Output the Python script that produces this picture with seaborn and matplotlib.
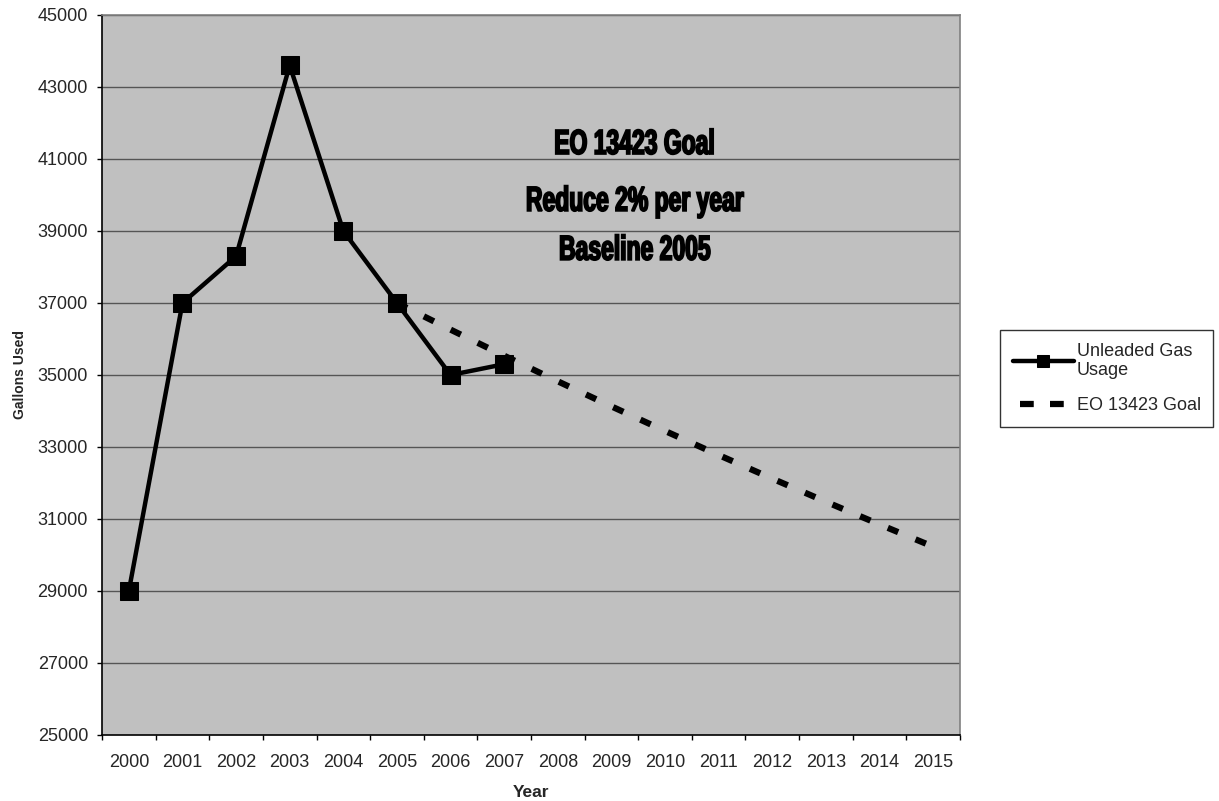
import matplotlib
matplotlib.use("Agg")
import matplotlib.pyplot as plt
import seaborn as sns
import pandas as pd
import numpy as np
from matplotlib.patheffects import AbstractPathEffect
from matplotlib.transforms import Affine2D

# Annual unleaded gasoline usage (gallons)
usage_years = [2000, 2001, 2002, 2003, 2004, 2005, 2006, 2007]
usage_gallons = [29000, 37000, 38300, 43600, 39000, 37000, 35000, 35300]

# EO 13423 goal: 2% reduction per year from the 2005 baseline
goal_years = [2005, 2006, 2007, 2008, 2009, 2010, 2011, 2012, 2013, 2014, 2015]
goal_gallons = [37000, 36260, 35535, 34824, 34128, 33445, 32776, 32121, 31479, 30849, 30232]

axis_years = list(range(2000, 2016))
y_ticks = [25000, 27000, 29000, 31000, 33000, 35000, 37000, 39000, 41000, 43000, 45000]
note_lines = ["EO 13423 Goal", "Reduce 2% per year", "Baseline 2005"]


class CondensedHeavy(AbstractPathEffect):
    """Draw text glyphs narrowed horizontally about their centre, with a thickening stroke."""

    def __init__(self, sx=0.7, stroke=1.0):
        super().__init__()
        self.sx = sx
        self.stroke = stroke

    def draw_path(self, renderer, gc, tpath, affine, rgbFace=None):
        v = tpath.vertices
        cx = 0.5 * (v[:, 0].min() + v[:, 0].max()) if len(v) else 0.0
        aff = Affine2D().translate(-cx, 0).scale(self.sx, 1.0).translate(cx, 0) + affine
        gc0 = renderer.new_gc()
        gc0.copy_properties(gc)
        if rgbFace is not None and self.stroke > 0:
            gc0.set_foreground(rgbFace)
            gc0.set_linewidth(self.stroke)
            gc0.set_joinstyle("miter")
        renderer.draw_path(gc0, tpath, aff, rgbFace)
        gc0.restore()


sns.set_theme(style="white")
plt.rcParams["font.family"] = ["Liberation Sans", "DejaVu Sans"]

usage_df = pd.DataFrame({"pos": [axis_years.index(y) for y in usage_years],
                         "gallons": usage_gallons})
goal_df = pd.DataFrame({"pos": [axis_years.index(y) for y in goal_years],
                        "gallons": goal_gallons})

fig = plt.figure(figsize=(12.19, 8.01), dpi=100)
ax = fig.add_axes([0.0837, 0.0824, 0.7038, 0.8989])
ax.set_facecolor("#c0c0c0")

for y in y_ticks[1:]:
    ax.axhline(y, color="#555555", lw=1.0, zorder=1)

sns.lineplot(data=goal_df, x="pos", y="gallons", ax=ax, color="black", lw=4.5,
             dashes=False, zorder=3, label="EO 13423 Goal")
ax.lines[-1].set_dashes((1.8, 3.0))
sns.lineplot(data=usage_df, x="pos", y="gallons", ax=ax, color="black", lw=3.2,
             marker="s", markersize=13, markeredgecolor="black", zorder=4,
             label="Unleaded Gas\nUsage")

ax.set_xlim(-0.5, len(axis_years) - 0.5)
ax.set_ylim(25000, 45000)
ax.set_yticks(y_ticks)
ax.set_yticklabels([str(v) for v in y_ticks], fontsize=13)
ax.set_xticks(np.arange(-0.5, len(axis_years), 1.0))
ax.set_xticklabels([])
ax.set_xticks(np.arange(len(axis_years)), minor=True)
ax.set_xticklabels([str(y) for y in axis_years], minor=True, fontsize=13)
ax.tick_params(axis="x", which="major", length=3.6, width=1, color="black", direction="out", bottom=True)
ax.tick_params(axis="x", which="minor", length=0, pad=14)
ax.tick_params(axis="y", length=3.6, width=1, color="black", direction="out", left=True, pad=6.5)

for side in ["left", "bottom"]:
    ax.spines[side].set_color("black")
    ax.spines[side].set_linewidth(1.2)
for side in ["top", "right"]:
    ax.spines[side].set_color("#808080")
    ax.spines[side].set_linewidth(1.2)

ax.set_xlabel("Year", fontsize=12.5, fontweight="bold")
ax.xaxis.set_label_coords(0.5, -0.07)
ax.set_ylabel("Gallons Used", fontsize=10, fontweight="bold")
ax.yaxis.set_label_coords(-0.087, 0.5)

for text, yv in zip(note_lines, [41140, 39560, 38200]):
    ax.text(9.44, yv, text, ha="center", va="baseline", fontsize=25, fontweight="bold",
            color="black", path_effects=[CondensedHeavy(0.66, 1.3)])

handles, labels = ax.get_legend_handles_labels()
order = [1, 0]
leg = ax.legend([handles[i] for i in order], [labels[i] for i in order],
                loc="center left", bbox_to_anchor=(1.0466, 0.495), borderaxespad=0,
                frameon=True, fancybox=False, edgecolor="black", fontsize=13,
                handlelength=3.4, borderpad=0.7, labelspacing=1.0, handletextpad=0.15)
leg.get_frame().set_linewidth(1.0)
leg.legend_handles[0].set_markersize(8)
leg.legend_handles[1].set_linestyle((3.68, (2.2, 2.6)))

fig.savefig("out.png", dpi=100, facecolor="white")
